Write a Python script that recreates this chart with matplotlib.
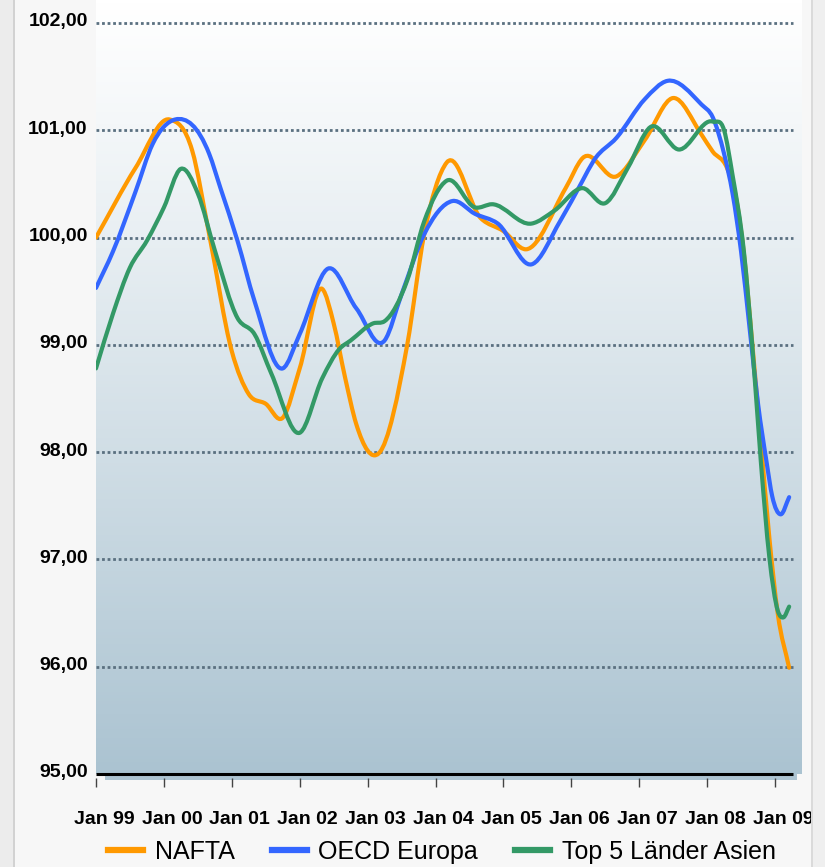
import numpy as np
import matplotlib
matplotlib.use("Agg")
import matplotlib.pyplot as plt
from matplotlib.path import Path
from matplotlib.patches import PathPatch, Rectangle
from matplotlib.lines import Line2D
import matplotlib.transforms as mtransforms

plt.rcParams['font.family'] = ['Liberation Sans', 'DejaVu Sans']

# months since Jan 1999
nafta_month = [0, 7, 13, 17, 20, 24, 27, 30, 33, 36, 40, 42, 44, 46, 50, 55, 58, 62, 68, 72,
               76, 83, 86, 92, 97, 102, 107, 109, 111.5, 113, 114.5, 116, 117.5, 119, 120.5, 122.5]
nafta_value = [100.00, 100.65, 101.10, 100.81, 100.03, 98.94, 98.54, 98.45, 98.32, 98.78, 99.52,
               99.20, 98.70, 98.26, 97.99, 99.00, 100.03, 100.70, 100.18, 100.06,
               99.89, 100.46, 100.74, 100.57, 100.91, 101.30, 100.96, 100.80, 100.65, 100.40,
               99.85, 99.00, 98.10, 97.20, 96.49, 95.99]

oecd_month = [0, 3, 7, 10, 14, 20, 22, 25, 28, 33, 36, 41, 46, 51, 54, 58, 63, 67, 71, 77, 82,
              86, 88, 92, 97, 101, 107, 109, 111, 112.5, 114, 115.5, 117, 118.5, 119.5, 121, 122.5]
oecd_value = [99.53, 99.87, 100.43, 100.87, 101.10, 100.78, 100.46, 99.97, 99.41, 98.78, 99.10,
              99.71, 99.34, 99.04, 99.47, 100.03, 100.34, 100.22, 100.13, 99.75, 100.15,
              100.53, 100.72, 100.93, 101.29, 101.46, 101.24, 101.12, 100.78, 100.41, 99.87,
              99.16, 98.45, 97.91, 97.59, 97.42, 97.58]

asia_month = [0, 3, 6, 9, 12, 15, 18, 21, 25, 28, 31, 36, 40, 43, 45, 49, 51, 55, 58, 62, 67,
              70, 77, 81, 86, 90, 94, 98, 103, 109, 111, 112.5, 114.5, 116, 117.5, 119, 120.5,
              121.5, 122.5]
asia_value = [98.78, 99.29, 99.72, 99.97, 100.28, 100.64, 100.41, 99.88, 99.25, 99.10, 98.73,
              98.18, 98.69, 98.96, 99.04, 99.20, 99.22, 99.60, 100.15, 100.53, 100.28,
              100.31, 100.13, 100.25, 100.46, 100.32, 100.65, 101.03, 100.82, 101.08, 101.00,
              100.58, 99.87, 98.98, 97.91, 97.02, 96.52, 96.46, 96.56]

series_names = ["NAFTA", "OECD Europa", "Top 5 Länder Asien"]
series_colors = ["#ff9900", "#3366ff", "#339966"]

tick_months = [0, 12, 24, 36, 48, 60, 72, 84, 96, 108, 120]
tick_labels = ["Jan 99", "Jan 00", "Jan 01", "Jan 02", "Jan 03", "Jan 04",
               "Jan 05", "Jan 06", "Jan 07", "Jan 08", "Jan 09"]
y_ticks = [95, 96, 97, 98, 99, 100, 101, 102]


def smooth_path(x, y):
    # cubic bezier through the points (spline-style line rendering)
    x = np.asarray(x, float)
    y = np.asarray(y, float)
    m = np.gradient(y, x)
    verts = [(x[0], y[0])]
    codes = [Path.MOVETO]
    for i in range(len(x) - 1):
        h = x[i + 1] - x[i]
        verts += [(x[i] + h / 3, y[i] + m[i] * h / 3),
                  (x[i + 1] - h / 3, y[i + 1] - m[i + 1] * h / 3),
                  (x[i + 1], y[i + 1])]
        codes += [Path.CURVE4] * 3
    return Path(verts, codes)


W, H = 825, 867
fig = plt.figure(figsize=(W / 100, H / 100), dpi=100, facecolor="#f7f7f7")

# side borders
fig.patches.append(Rectangle((0, 0), 13 / W, 1, transform=fig.transFigure,
                             facecolor="#ececec", edgecolor="none", zorder=0))
fig.patches.append(Rectangle((13 / W, 0), 1.5 / W, 1, transform=fig.transFigure,
                             facecolor="#d2d2d2", edgecolor="none", zorder=0))
fig.patches.append(Rectangle((811 / W, 0), 14 / W, 1, transform=fig.transFigure,
                             facecolor="#efefef", edgecolor="none", zorder=0))
fig.patches.append(Rectangle((811 / W, 0), 1.5 / W, 1, transform=fig.transFigure,
                             facecolor="#dadada", edgecolor="none", zorder=0))

ax = fig.add_axes([96 / W, (H - 774) / H, 706 / W, 774 / H])
ax.set_facecolor("none")
for s in ax.spines.values():
    s.set_visible(False)

# gradient background, white at the top
grad = np.linspace(0, 1, 256).reshape(-1, 1)
top = np.array([1.0, 1.0, 1.0])
bot = np.array([0.67, 0.765, 0.82])
img = top + (bot - top) * grad[..., None] ** 1.1
ax.imshow(img.reshape(256, 1, 3), extent=[0, 1, 0, 1], origin="upper",
          transform=ax.transAxes, aspect="auto", zorder=0)

# floor band under the plot area
ax.add_patch(Rectangle((9 / 706, -6 / 774), (797 - 105) / 706, 6 / 774,
                       transform=ax.transAxes, facecolor="#adc4d2",
                       edgecolor="none", zorder=0.5, clip_on=False))

ax.set_xlim(0, 124.77)
ax.set_ylim(95, 95 + 774 / 107.3)

# gridlines and baseline
xr = (793 - 96) / 706
ax.hlines(y_ticks[1:], 0, xr, transform=ax.get_yaxis_transform(),
          colors="#5a7080", linestyles=(0, (1, 1)), linewidth=2.0, zorder=1)
ax.hlines([95], 0, xr, transform=ax.get_yaxis_transform(),
          colors="black", linewidth=2.2, zorder=5, clip_on=False)

all_series = [(nafta_month, nafta_value), (oecd_month, oecd_value), (asia_month, asia_value)]
for (mx, vy), c in zip(all_series, series_colors):
    ax.add_patch(PathPatch(smooth_path(mx, vy), fill=False, edgecolor=c, linewidth=3.0,
                           capstyle="round", joinstyle="round", zorder=3))

# y axis labels
ax.set_yticks(y_ticks)
ax.set_yticklabels([f"{v:.2f}".replace(".", ",") for v in y_ticks],
                   fontsize=14, fontweight="bold")
ax.tick_params(axis="y", length=0, pad=6)
for lbl in ax.get_yticklabels():
    lbl.set_transform(lbl.get_transform() + mtransforms.ScaledTranslation(0, 3 / 100, fig.dpi_scale_trans))

# x axis: ticks drawn below the floor band
ax.set_xticks(tick_months)
ax.set_xticklabels(tick_labels, fontsize=14, fontweight="bold")
ax.tick_params(axis="x", length=0, pad=27)
for lbl in ax.get_xticklabels():
    lbl.set_transform(lbl.get_transform() + mtransforms.ScaledTranslation(8 / 100, 0, fig.dpi_scale_trans))
ax.vlines(tick_months, -13 / 774, -4 / 774, transform=ax.get_xaxis_transform(),
          colors="#444444", linewidth=1.0, clip_on=False)

handles = [Line2D([], [], color=c, linewidth=4.5) for c in series_colors]
fig.legend(handles, series_names, loc="center", bbox_to_anchor=(442 / W, 15 / H),
           ncol=3, frameon=False, fontsize=18, handlelength=1.4, handletextpad=0.45,
           columnspacing=1.5, borderpad=0, borderaxespad=0)

fig.savefig("out.png", dpi=100, facecolor=fig.get_facecolor())
